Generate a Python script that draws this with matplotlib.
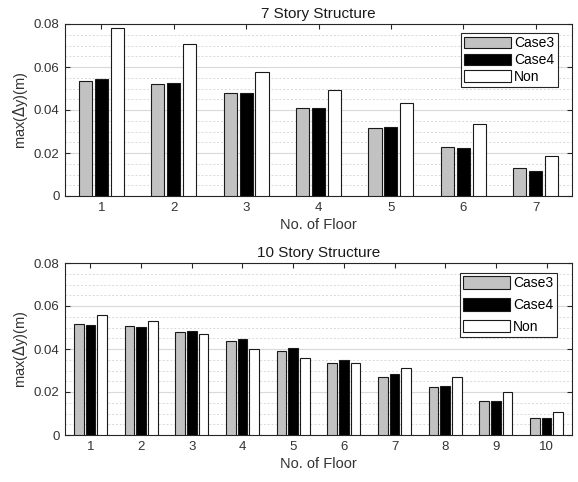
import numpy as np
import matplotlib.pyplot as plt
from matplotlib.ticker import MultipleLocator

plt.rcParams['font.family'] = ['Liberation Sans', 'DejaVu Sans']

series = ['Case3', 'Case4', 'Non']
colors = ['#c2c2c2', 'black', 'white']

# 7 story structure
floors7 = [1, 2, 3, 4, 5, 6, 7]
case3_7 = [0.0537, 0.0522, 0.0479, 0.0409, 0.0317, 0.0227, 0.0131]
case4_7 = [0.0542, 0.0527, 0.0479, 0.0409, 0.0323, 0.0221, 0.0116]
non_7 = [0.0780, 0.0706, 0.0575, 0.0491, 0.0432, 0.0337, 0.0185]

# 10 story structure
floors10 = [1, 2, 3, 4, 5, 6, 7, 8, 9, 10]
case3_10 = [0.0518, 0.0508, 0.0477, 0.0435, 0.0392, 0.0335, 0.0271, 0.0223, 0.0160, 0.0079]
case4_10 = [0.0513, 0.0503, 0.0484, 0.0446, 0.0403, 0.0350, 0.0286, 0.0229, 0.0160, 0.0079]
non_10 = [0.0556, 0.0530, 0.0471, 0.0398, 0.0356, 0.0335, 0.0313, 0.0271, 0.0202, 0.0106]

yticks = [0, 0.02, 0.04, 0.06, 0.08]
ytick_labels = ['0', '0.02', '0.04', '0.06', '0.08']

W, H = 578, 482
fig = plt.figure(figsize=(W / 100, H / 100), dpi=100)
ax1 = fig.add_axes([65 / W, 1 - 196 / H, 507 / W, 172 / H])
ax2 = fig.add_axes([65 / W, 1 - 435 / H, 507 / W, 172 / H])

dark = '#262626'


def draw(ax, floors, data, title, width, offs, leg_kw):
    x = np.array(floors)
    for vals, off, c, lab in zip(data, offs, colors, series):
        ax.bar(x + off, vals, width, color=c, edgecolor='#1a1a1a', linewidth=0.8,
               label=lab, zorder=3)
    ax.set_xlim(0.5, len(floors) + 0.5)
    ax.set_ylim(0, 0.08)
    ax.set_xticks(floors)
    ax.set_yticks(yticks, labels=ytick_labels)
    ax.yaxis.set_minor_locator(MultipleLocator(0.005))
    ax.grid(True, which='major', axis='y', color='#d9d9d9', linewidth=0.8, zorder=0)
    ax.grid(True, which='minor', axis='y', color='#d9d9d9', linewidth=0.7,
            linestyle=(0, (2, 2)), zorder=0)
    ax.tick_params(which='major', direction='in', top=True, right=True,
                   labelsize=9.5, colors=dark, labelcolor='#333333', length=3.5, pad=4)
    ax.tick_params(which='minor', length=0)
    for s in ax.spines.values():
        s.set_color(dark)
        s.set_linewidth(0.8)
    ax.set_title(title, fontsize=11, color='#1a1a1a', pad=4)
    ax.set_xlabel('No. of Floor', fontsize=10.5, color='#333333', labelpad=3)
    ax.set_ylabel('max($\\Delta$y)(m)', fontsize=10.5, color='#333333', labelpad=3)
    leg = ax.legend(loc='upper right', fontsize=10, handlelength=3.4,
                    handletextpad=0.2, fancybox=False, framealpha=1,
                    borderaxespad=0, **leg_kw)
    leg.get_frame().set_edgecolor(dark)
    leg.get_frame().set_linewidth(0.8)


draw(ax1, floors7, [case3_7, case4_7, non_7], '7 Story Structure', 0.18,
     [-0.22, 0.0, 0.22],
     dict(bbox_to_anchor=(0.972, 0.948), handleheight=0.9, labelspacing=0.2, borderpad=0.25))
draw(ax2, floors10, [case3_10, case4_10, non_10], '10 Story Structure', 0.19,
     [-0.23, 0.0, 0.23],
     dict(bbox_to_anchor=(0.970, 0.942), handleheight=1.0, labelspacing=0.55, borderpad=0.25))

fig.savefig('out.png', dpi=100)
